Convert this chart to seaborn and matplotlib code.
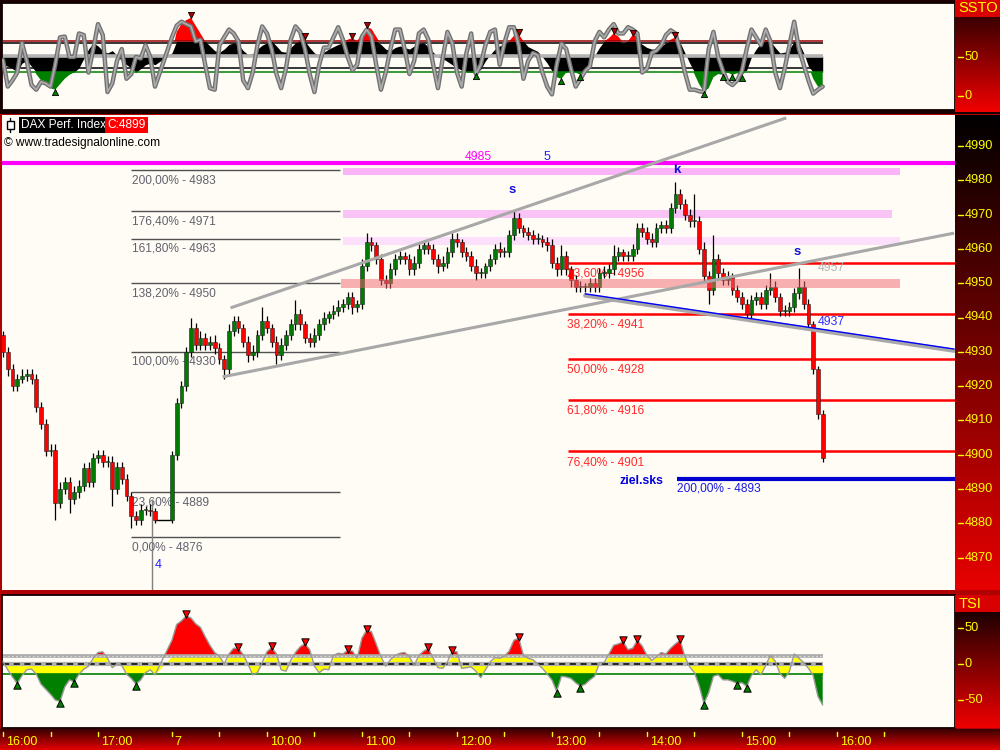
import numpy as np
import pandas as pd
import matplotlib
matplotlib.use("Agg")
import matplotlib.pyplot as plt
import seaborn as sns
from matplotlib.patches import Rectangle
from matplotlib.colors import LinearSegmentedColormap

sns.set_theme(style="white")
plt.rcParams['font.family'] = ['Liberation Sans', 'DejaVu Sans']

# ---------------------------------------------------------------- DATA
BAR_MIN = 3            # minutes per bar
DAY2_OFFSET = 106.7    # axis position (minutes) of 09:00 on day 2

# Day 1 (from 16:00), 3-minute bars
d1_open_first = 4935
d1_close = [4930, 4925, 4920, 4922, 4923, 4923.5, 4922, 4914, 4909, 4901,
            4901.5, 4886, 4890, 4892, 4887, 4889, 4891, 4896, 4892, 4899,
            4900, 4898, 4898, 4890, 4896.5, 4893, 4888, 4882, 4881, 4884,
            4884, 4883.5, 4881]
d1_hi_ext = [1, 1.5, 1.5, 1.5, 2, 1.5, 1.5, 1.5, 1.5, 1.5,
             1.5, 1.5, 2, 1.5, 1.5, 2, 1.5, 1.5, 2, 1.5,
             1.5, 1.5, 1.5, 1.5, 1.5, 1.5, 1.5, 1, 1.5, 1.5,
             1, 1.5, 1]
d1_lo_ext = [1.5, 2, 1.5, 1.5, 1, 1.5, 1.5, 1.5, 1.5, 1.5,
             1.5, 5, 1.5, 1.5, 4, 1.5, 1.5, 1.5, 1.5, 1.5,
             1.5, 1.5, 1.5, 5, 1.5, 1.5, 1.5, 3.5, 1.5, 1.5,
             1.5, 1.5, 1]

# Day 2 (from 09:00), 3-minute bars
d2_open_first = 4881
d2_close = [4900, 4915, 4920, 4930, 4937, 4932, 4934, 4932, 4933, 4931,
            4928, 4925, 4936, 4939, 4937, 4933, 4929, 4930, 4935, 4939,
            4937, 4933, 4929, 4932, 4935, 4938, 4941, 4938, 4934, 4933,
            4935, 4938, 4940, 4941, 4942, 4943, 4944, 4946, 4943, 4944,
            4955, 4962, 4961, 4957, 4951, 4950, 4954, 4957, 4958, 4957,
            4954, 4956, 4960, 4961, 4960, 4957, 4955, 4956, 4959, 4963,
            4962, 4959, 4958, 4955, 4953, 4953, 4955, 4957, 4960, 4959,
            4959, 4964, 4969, 4966, 4965, 4964, 4963, 4963, 4962, 4961,
            4956, 4954, 4958, 4954, 4951, 4949, 4949, 4949, 4950, 4949,
            4953, 4953, 4954, 4958, 4959, 4958, 4958, 4960, 4966, 4965,
            4963, 4962, 4966, 4967, 4966, 4972, 4976, 4973, 4970, 4968,
            4968, 4960, 4952, 4948, 4957, 4953, 4951, 4952, 4948, 4946,
            4944, 4941, 4945, 4946, 4944, 4948, 4949, 4946, 4942, 4942,
            4943, 4947, 4949, 4944, 4938, 4925, 4912, 4899]
d2_hi_ext = [1, 1.5, 1.5, 1.5, 3, 1.5, 2, 1.5, 1.5, 2,
             1.5, 1, 2, 1.5, 1.5, 1, 1.5, 2, 1.5, 4,
             1.5, 1, 1.5, 2, 1.5, 1.5, 4, 1.5, 1, 1.5,
             2, 1.5, 1.5, 1, 1.5, 2, 1.5, 1.5, 1.5, 1,
             2, 2.5, 1.5, 1, 1.5, 1.5, 2, 1.5, 1.5, 1,
             1.5, 2, 1.5, 1.5, 1, 1.5, 1.5, 2, 1.5, 1.6,
             1.5, 1, 1.5, 1.5, 2, 1.5, 1, 1.5, 1.5, 2,
             1.5, 1.5, 2, 1.5, 1, 1.5, 1.5, 1.5, 1, 1.5,
             2, 1.5, 3, 1.5, 1, 1.5, 1.5, 1, 1.5, 1.5,
             1.5, 2, 1.5, 3, 1.5, 1, 1.5, 1.5, 1.5, 1.5,
             1.5, 1.5, 1.5, 1, 1.5, 1.5, 3.5, 1.5, 1.5, 1.5,
             8, 1.5, 2, 1.5, 7, 1.5, 1.5, 1.5, 1, 1.5,
             1.5, 1.5, 1.5, 1.5, 1.5, 1.5, 4, 1.5, 1, 1.5,
             1.5, 1.5, 5.5, 1.5, 1.5, 1, 1, 1]
d2_lo_ext = [1, 1.5, 1.5, 1.5, 1.5, 1.5, 1.5, 1.5, 1.5, 1.5,
             1.5, 3, 1.5, 1.5, 1.5, 1.5, 2, 1.5, 1.5, 1.5,
             1.5, 1.5, 2.5, 1.5, 1.5, 1.5, 1.5, 1.5, 1.5, 1.5,
             1.5, 1.5, 1.5, 1.5, 1.5, 1.5, 1.5, 1.5, 2, 1.5,
             1.5, 1.5, 1.5, 1.5, 1.5, 1.5, 1.5, 1.5, 1.5, 1.5,
             1.5, 1.5, 1.5, 1.5, 1.5, 1.5, 2, 1.5, 1.5, 1.5,
             1.5, 1.5, 1.5, 1.5, 2, 1.5, 1.5, 1.5, 1.5, 1.5,
             1.5, 1.5, 1.5, 1.5, 1.5, 1.5, 1.5, 1.5, 1.5, 1.5,
             1.5, 2, 1.5, 1.5, 2, 1.5, 1.5, 1.5, 1.5, 1.5,
             1.5, 1.5, 1.5, 1.5, 1.5, 1.5, 1.5, 1.5, 1.5, 1.5,
             1.5, 1.5, 1.5, 1.5, 1.5, 1.5, 1.5, 1.5, 1.5, 1.5,
             1.5, 1.5, 1.5, 4, 1.5, 1.5, 1.5, 1.5, 1.5, 1.5,
             1.5, 1.5, 1.5, 1.5, 1.5, 1.5, 1.5, 1.5, 1.5, 1.5,
             1.5, 1.5, 1.5, 1.5, 1.5, 1.5, 1.5, 1]

# SSTO oscillator (fast grey line and smoothed filled curve)
ssto_fast_d1 = [46, 12, 20, 30, 68, 45, 14, 8, 18, 16, 12, 40, 75, 76, 50, 50, 80,
                78, 30, 60, 92, 78, 5, 16, 45, 60, 22, 28, 50, 48, 65, 50, 12]
ssto_fast_d2 = [75, 90, 95, 92, 89, 70, 72, 40, 10, 8,
                65, 75, 85, 80, 70, 20, 10, 30, 65, 89,
                80, 60, 28, 10, 35, 72, 89, 82, 60, 28,
                5, 40, 62, 62, 75, 88, 72, 50, 33, 40,
                76, 85, 76, 40, 8, 30, 60, 85, 85, 60,
                28, 45, 80, 85, 72, 40, 10, 48, 82, 68,
                30, 12, 55, 80, 28, 40, 65, 82, 85, 40,
                68, 88, 88, 65, 22, 45, 55, 52, 30, 12,
                2, 40, 67, 60, 35, 12, 22, 32, 38, 70,
                82, 75, 85, 92, 80, 80, 88, 85, 80, 30,
                35, 55, 58, 65, 78, 84, 80, 58, 30, 8,
                8, 6, 5, 60, 82, 50, 32, 18, 14, 20,
                32, 60, 85, 75, 65, 85, 70, 30, 10, 35,
                65, 95, 60, 40, 20, 3, 8, 12]
ssto_slow_d1 = [40, 38, 35, 30, 42, 45, 38, 28, 20, 14, 10, 8, 15, 22, 27, 30, 36,
                48, 60, 68, 64, 58, 55, 58, 52, 45, 40, 36, 29, 35, 40, 42, 40]
ssto_slow_d2 = [55, 82, 92, 97, 100, 90, 80, 70, 64, 58,
                56, 60, 66, 68, 66, 58, 53, 54, 60, 65,
                68, 70, 64, 57, 56, 62, 68, 72, 74, 62,
                55, 52, 56, 60, 63, 66, 68, 72, 74, 70,
                80, 88, 86, 76, 66, 60, 58, 62, 64, 62,
                60, 64, 67, 68, 63, 56, 50, 48, 44, 40,
                36, 33, 31, 30, 28, 34, 45, 53, 60, 64,
                66, 70, 77, 79, 70, 63, 60, 57, 50, 42,
                32, 24, 22, 30, 33, 30, 27, 33, 42, 52,
                62, 70, 74, 80, 76, 68, 70, 78, 76, 66,
                62, 60, 60, 64, 68, 72, 75, 68, 55, 42,
                28, 15, 5, 10, 24, 28, 27, 30, 27, 29,
                26, 33, 50, 60, 68, 72, 70, 62, 55, 56,
                60, 70, 68, 55, 38, 22, 12, 10]

# TSI
tsi_d1 = [3, -8, -18, -27, -16, -8, -7, -14, -28, -35, -42, -50, -52, -32, -22, -25, -14,
          -7, -3, 8, 16, 17, 8, -5, 0, -2, -14, -20, -28, -22, -12, -8, -15]
tsi_d2 = [33, 55, 60, 67, 64, 56, 51, 38, 26, 16,
          11, 0, 14, 22, 22, 13, 0, -15, -12, 2,
          17, 23, 14, -8, -10, 5, 16, 24, 28, 20,
          -3, -12, -7, -8, 12, 15, 14, 19, 18, 8,
          36, 47, 45, 28, 10, -3, 6, 12, 15, 16,
          10, -2, 12, 18, 22, 8, -5, -6, 3, 18,
          17, -6, -5, -4, -10, -19, -8, 3, 9, 8,
          11, 18, 33, 36, 12, 8, 6, 0, -6, -14,
          -22, -38, -17, -18, -20, -26, -31, -28, -22, -17,
          2, 2, 14, 26, 28, 31, 20, 22, 33, 25,
          12, 5, 10, 16, 14, 22, 28, 33, 10, -4,
          -12, -30, -55, -40, -17, -15, -22, -22, -24, -27,
          -26, -31, -16, -8, -15, -2, 12, 4, -13, -20,
          -10, 14, 8, 2, -6, -16, -45, -57]

price_ticks = [4870, 4880, 4890, 4900, 4910, 4920, 4930, 4940, 4950, 4960, 4970, 4980, 4990]
ssto_ticks = [50, 0]
tsi_ticks = [50, 0, -50]

time_ticks = [(1, "16:00", "16:00"), (1, "16:30", ""), (1, "17:00", "17:00"),
              (2, "09:00", "7"), (2, "09:30", ""), (2, "10:00", "10:00"), (2, "10:30", ""),
              (2, "11:00", "11:00"), (2, "11:30", ""), (2, "12:00", "12:00"), (2, "12:30", ""),
              (2, "13:00", "13:00"), (2, "13:30", ""), (2, "14:00", "14:00"), (2, "14:30", ""),
              (2, "15:00", "15:00"), (2, "15:30", ""), (2, "16:00", "16:00"), (2, "16:30", "")]

fib_left_levels = [4983, 4971, 4963, 4950, 4930, 4889, 4876]
fib_left_pcts = ["200,00%", "176,40%", "161,80%", "138,20%", "100,00%", "23,60%", "0,00%"]
fib_left_span = [(1, "17:21"), (2, "10:46")]
fib_right_levels = [4956, 4941, 4928, 4916, 4901]
fib_right_pcts = ["23,60%", "38,20%", "50,00%", "61,80%", "76,40%"]
fib_right_start = (2, "13:10")
resistance_level = 4985
target_level = 4893
target_start = (2, "14:19")
zones = [(4981.5, 4983.6, (2, "10:48"), (2, "16:40")),
         (4969.0, 4971.3, (2, "10:48"), (2, "16:35")),
         (4961.2, 4963.5, (2, "10:48"), (2, "16:40")),
         (4948.6, 4951.2, (2, "10:47"), (2, "16:40"))]
channel_upper = [((2, "09:37"), 4942.8), ((2, "15:28"), 4998.2)]
channel_lower = [((2, "09:32"), 4922.7), ((2, "17:14"), 4964.6)]
trend_line = [((2, "13:21"), 4946.9), ((2, "17:14"), 4930.8)]
wave4_marker = ((1, "17:34"), 4887)
last_close = 4899

# ---------------------------------------------------------------- HELPERS
PX_PER_MIN = 47.5 / 30.0


def tpos(day, hhmm):
    h, m = map(int, hhmm.split(":"))
    if day == 1:
        return h * 60 + m - 16 * 60
    return DAY2_OFFSET + h * 60 + m - 9 * 60


def px2x(px):
    return (px - 3) / PX_PER_MIN


def py2price(py):
    return 4990 - (py - 146) / 3.43


XLIM = (px2x(2), px2x(955))
MAIN_YLIM = (py2price(590), py2price(115))
TOP_YLIM = (-18, 119)
TSI_YLIM = (-89, 96)


def frac_rect(x0, y0, x1, y1):
    return [x0 / 1000, 1 - y1 / 750, (x1 - x0) / 1000, (y1 - y0) / 750]


def ohlc(open_first, close, hi_ext, lo_ext):
    c = np.array(close, float)
    o = np.r_[open_first, c[:-1]]
    n = len(c)
    he = np.array(hi_ext[:n], float)
    le = np.array(lo_ext[:n], float)
    return o, c, np.maximum(o, c) + he, np.minimum(o, c) - le


def day_x(n, day):
    base = 0.0 if day == 1 else DAY2_OFFSET
    return base + np.arange(n) * BAR_MIN


# ---------------------------------------------------------------- FIGURE
fig = plt.figure(figsize=(10, 7.5), dpi=100)
fig.patch.set_facecolor('#B00000')
fig.add_artist(Rectangle((0, 1 - 114 / 750), 1, 114 / 750, transform=fig.transFigure,
                         facecolor='#1A0000', edgecolor='none', zorder=-5))

ax_top = fig.add_axes(frac_rect(2, 3, 955, 110))
ax_main = fig.add_axes(frac_rect(2, 115, 955, 590))
ax_tsi = fig.add_axes(frac_rect(2, 595, 955, 728))

for a, yl in ((ax_top, TOP_YLIM), (ax_main, MAIN_YLIM), (ax_tsi, TSI_YLIM)):
    a.set_facecolor('#FFFCF5')
    a.set_xlim(XLIM)
    a.set_ylim(yl)
    a.set_xticks([])
    a.set_yticks([])
    for sp in a.spines.values():
        sp.set_color('#100000')
        sp.set_linewidth(1.3)
for sp in ax_main.spines.values():
    sp.set_visible(False)

# ---------------------------------------------------------------- MAIN PANEL
ax = ax_main
x1 = day_x(len(d1_close), 1)
x2 = day_x(len(d2_close), 2)
body_w = BAR_MIN * 0.8

# zones: pink ones behind the candles, salmon one translucent on top
zone_styles = [('#FBB4F8', 1.0, 1), ('#F9C3F6', 1.0, 1), ('#FCE0FB', 1.0, 1),
               ('#F0646A', 0.5, 6)]
for (lo, hi, s, e), (col, al, zo) in zip(zones, zone_styles):
    ax.add_patch(Rectangle((tpos(*s), lo), tpos(*e) - tpos(*s), hi - lo,
                           facecolor=col, alpha=al, edgecolor='none', zorder=zo))

# resistance line
ax.axhline(resistance_level, color='#FF00FF', lw=3, zorder=7)

# left fibonacci grid
fl0, fl1 = tpos(*fib_left_span[0]), tpos(*fib_left_span[1])
for lvl, pct in zip(fib_left_levels, fib_left_pcts):
    ax.hlines(lvl, fl0, fl1, color='#505050', lw=1, zorder=2)
    ax.annotate(f"{pct} - {lvl}", (px2x(132), lvl), xytext=(0, -3), textcoords='offset points',
                va='top', ha='left', fontsize=8.6, color='#62626E', zorder=2)

# right fibonacci grid
fr0 = tpos(*fib_right_start)
for lvl, pct in zip(fib_right_levels, fib_right_pcts):
    ax.hlines(lvl, fr0, XLIM[1], color='#FF0000', lw=1.8, zorder=2)
    ax.annotate(f"{pct} - {lvl}", (px2x(567), lvl), xytext=(0, -3.5), textcoords='offset points',
                va='top', ha='left', fontsize=8.6, color='#FF2A2A', zorder=2)

# target line
ax.hlines(target_level, tpos(*target_start), XLIM[1], color='#0000D0', lw=3, zorder=7)
ax.text(px2x(620), py2price(481), "ziel.sks", color='#0000E0', fontsize=8.8,
        fontweight='bold', va='center', ha='left', zorder=8)
ax.annotate(f"200,00% - {target_level}", (px2x(677), target_level), xytext=(0, -3),
            textcoords='offset points', va='top', ha='left', fontsize=8.6, color='#1A1AE0', zorder=8)

# wave 4 vertical marker
ax.vlines(tpos(*wave4_marker[0]), MAIN_YLIM[0], wave4_marker[1], color='#808080', lw=1, zorder=2)
ax.text(px2x(158), py2price(565), "4", color='#2020FF', fontsize=9, va='center', ha='center', zorder=8)

# candles
for x, (o, c, h, l) in ((x1, ohlc(d1_open_first, d1_close, d1_hi_ext, d1_lo_ext)),
                        (x2, ohlc(d2_open_first, d2_close, d2_hi_ext, d2_lo_ext))):
    ax.vlines(x, l, h, color='black', lw=0.9, zorder=4)
    hgt = np.where(np.abs(c - o) < 0.3, 0.3, c - o)
    cols = np.where(c >= o, '#007A00', '#FF0000')
    ax.bar(x, hgt, bottom=o, width=body_w, color=cols, edgecolor='#202020',
           linewidth=0.4, zorder=5)
ax.hlines(d1_close[-1], x1[-1], x2[0], color='black', lw=1, zorder=4)

# channels and trend line
for (p0, v0), (p1, v1) in (channel_upper, channel_lower):
    ax.plot([tpos(*p0), tpos(*p1)], [v0, v1], color='#A8A8A8', lw=2.2, zorder=7,
            solid_capstyle='butt')
(p0, v0), (p1, v1) = trend_line
ax.plot([tpos(*p0), tpos(*p1)], [v0 - 0.5, v1 - 0.5], color='#A8A8A8', lw=3, zorder=7)
ax.plot([tpos(*p0), tpos(*p1)], [v0, v1], color='#0000FF', lw=1, zorder=7)

# texts
ax.text(px2x(478), py2price(157), "4985", color='#FF00FF', fontsize=8.8, ha='center', va='center', zorder=8)
ax.text(px2x(547), py2price(157), "5", color='#2020FF', fontsize=9, ha='center', va='center', zorder=8)
ax.text(px2x(512), py2price(190), "s", color='#1010E0', fontsize=9.5, fontweight='bold',
        ha='center', va='center', zorder=8)
ax.text(px2x(677), py2price(170), "k", color='#1010E0', fontsize=9.5, fontweight='bold',
        ha='center', va='center', zorder=8)
ax.text(px2x(797), py2price(252), "s", color='#1010E0', fontsize=9.5, fontweight='bold',
        ha='center', va='center', zorder=8)
ax.text(px2x(818), py2price(268), "4957", color='#B4B4B4', fontsize=8.8, ha='left', va='center', zorder=8)
ax.text(px2x(818), py2price(322), "4937", color='#3030FF', fontsize=8.8, ha='left', va='center', zorder=8)


def fx(px):
    return (px - 2) / 953


def fy(py):
    return 1 - (py - 115) / 475


ax.plot([fx(10), fx(10)], [fy(118), fy(132)], color='black', lw=1, transform=ax.transAxes, zorder=9)
ax.add_patch(Rectangle((fx(6.5), fy(129)), fx(13.5) - fx(6.5), fy(121) - fy(129),
                       facecolor='white', edgecolor='black', lw=1, transform=ax.transAxes, zorder=10))
ax.text(fx(21), fy(125), "DAX Perf. Index", color='white', fontsize=8.6, va='center', ha='left',
        transform=ax.transAxes, zorder=10,
        bbox=dict(facecolor='black', edgecolor='none', pad=1.6))
ax.text(fx(107), fy(125), f"C:{last_close}", color='white', fontsize=8.6, va='center', ha='left',
        transform=ax.transAxes, zorder=10,
        bbox=dict(facecolor='#FF0000', edgecolor='none', pad=1.6))
ax.text(fx(4), fy(143), "\u00a9 www.tradesignalonline.com", color='black', fontsize=8.6,
        va='center', ha='left', transform=ax.transAxes, zorder=10)


# ---------------------------------------------------------------- OSCILLATOR HELPERS
def extremes(v, hi, lo):
    peaks, troughs = [], []
    for i in range(1, len(v) - 1):
        if v[i] > hi and v[i] >= v[i - 1] and v[i] > v[i + 1]:
            peaks.append(i)
        if v[i] < lo and v[i] <= v[i - 1] and v[i] < v[i + 1]:
            troughs.append(i)
    return peaks, troughs


# ---------------------------------------------------------------- SSTO PANEL
SS_HI, SS_LO, SS_MID = 70, 30.5, 51
xs_fast = np.r_[day_x(len(ssto_fast_d1), 1), day_x(len(ssto_fast_d2), 2)]
v_fast = np.array(ssto_fast_d1 + ssto_fast_d2, float)
xs_slow = np.r_[day_x(len(ssto_slow_d1), 1), day_x(len(ssto_slow_d2), 2)]
v_slow = np.array(ssto_slow_d1 + ssto_slow_d2, float)

at = ax_top
at.fill_between(xs_slow, SS_MID, np.clip(v_slow, SS_LO, SS_HI), color='black', lw=0, zorder=2)
at.fill_between(xs_slow, SS_HI, v_slow, where=v_slow > SS_HI, interpolate=True,
                color='#FF0000', lw=0, zorder=2)
at.fill_between(xs_slow, SS_LO, v_slow, where=v_slow < SS_LO, interpolate=True,
                color='#008000', lw=0, zorder=2)
xa, xb = xs_slow[0], xs_slow[-1]
at.hlines(SS_MID, xa, xb, color='#B4B4B4', lw=2.6, zorder=3)
at.hlines(SS_HI + 0.8, xa, xb, color='#990000', lw=1.1, zorder=3)
at.hlines(67.5, xa, xb, color='black', lw=1.1, zorder=3)
at.hlines(36, xa, xb, color='black', lw=1.1, zorder=3)
at.hlines(SS_LO, xa, xb, color='#008000', lw=1.1, zorder=3)
sns.lineplot(x=xs_fast, y=v_fast, ax=at, color='#707070', linewidth=3.2, sort=False,
             estimator=None, legend=False, zorder=4)
sns.lineplot(x=xs_fast, y=v_fast, ax=at, color='#ABABAB', linewidth=1.3, sort=False,
             estimator=None, legend=False, zorder=5)
pk, tr = extremes(v_slow, SS_HI + 2, SS_LO - 2)
at.scatter(xs_slow[pk], v_slow[pk] + 3, marker='v', s=20, color='#B00000', edgecolor='black',
           linewidth=0.6, zorder=6)
at.scatter(xs_slow[tr], v_slow[tr] - 3, marker='^', s=20, color='#008000', edgecolor='black',
           linewidth=0.6, zorder=6)
at.set_xlim(XLIM)
at.set_ylim(TOP_YLIM)
at.set_xlabel("")
at.set_ylabel("")

# ---------------------------------------------------------------- TSI PANEL
T_HI, T_LO = 11, -14
xt = np.r_[day_x(len(tsi_d1), 1), day_x(len(tsi_d2), 2)]
vt = np.array(tsi_d1 + tsi_d2, float)
av = ax_tsi
av.fill_between(xt, 0, np.clip(vt, T_LO, T_HI), color='#FFFF00', lw=0, zorder=2)
av.fill_between(xt, T_HI, vt, where=vt > T_HI, interpolate=True, color='#FF0000', lw=0, zorder=2)
av.fill_between(xt, T_LO, vt, where=vt < T_LO, interpolate=True, color='#007F00', lw=0, zorder=2)
xa, xb = xt[0], xt[-1]
av.hlines(T_HI, xa, xb, color='#A8A8A8', lw=2.6, zorder=3)
av.hlines(T_HI, xa, xb, color='#D4D4D4', lw=1.0, linestyles=(0, (1.5, 1.5)), zorder=3)
av.hlines(0, xa, xb, color='#B0B0B0', lw=3, zorder=3)
av.hlines(0, xa, xb, color='black', lw=1.1, linestyles=(0, (4, 3)), zorder=3)
av.hlines(T_LO, xa, xb, color='#008000', lw=1.2, zorder=3)
sns.lineplot(x=xt, y=vt, ax=av, color='#9A9A9A', linewidth=1.0, sort=False,
             estimator=None, legend=False, zorder=4)
pk, tr = extremes(vt, T_HI + 6, T_LO - 6)
av.scatter(xt[pk], vt[pk] + 2, marker='v', s=28, color='#FF0000', edgecolor='black',
           linewidth=0.7, zorder=6)
av.scatter(xt[tr], vt[tr] - 2, marker='^', s=28, color='#008000', edgecolor='black',
           linewidth=0.7, zorder=6)
av.set_xlim(XLIM)
av.set_ylim(TSI_YLIM)
av.set_xlabel("")
av.set_ylabel("")


# ---------------------------------------------------------------- RIGHT STRIPS
def make_strip(rect, ylim, c_top, c_bot, ticks, label=None, label_frac=0.0,
               label_color='#D80000'):
    s = fig.add_axes(rect)
    cmap = LinearSegmentedColormap.from_list('g', [c_top, c_bot])
    top_y = ylim[1] - (ylim[1] - ylim[0]) * label_frac
    s.imshow(np.linspace(0, 1, 256).reshape(-1, 1), aspect='auto', cmap=cmap,
             extent=[0, 1, ylim[0], top_y], origin='upper', zorder=0)
    if label:
        s.add_patch(Rectangle((0, top_y), 1, ylim[1] - top_y, facecolor=label_color,
                              edgecolor='none', zorder=1))
        s.text(0.08, (top_y + ylim[1]) / 2, label, color='#FFFF00', fontsize=10.5,
               va='center', ha='left', clip_on=True, zorder=2)
    for t in ticks:
        s.plot([0.06, 0.17], [t, t], color='#FFFF00', lw=1, zorder=2)
        s.text(0.21, t, f"{t}", color='#FFFF00', fontsize=9.2, va='center', ha='left', zorder=2)
    s.set_xlim(0, 1)
    s.set_ylim(ylim)
    s.axis('off')
    return s


make_strip(frac_rect(955, 0, 1000, 112), (TOP_YLIM[0] - 2.6, TOP_YLIM[1] + 3.8),
           '#3A0000', '#F20000', ssto_ticks, label="SSTO", label_frac=17 / 112)
make_strip(frac_rect(955, 115, 1000, 590), MAIN_YLIM, '#000000', '#E80000', price_ticks)
make_strip(frac_rect(955, 595, 1000, 728), TSI_YLIM, '#1E0000', '#F00000', tsi_ticks,
           label="TSI", label_frac=17 / 133, label_color='#D80000')

# ---------------------------------------------------------------- TIME AXIS
bg = fig.add_axes(frac_rect(0, 729, 1000, 750))
bg.imshow(np.linspace(0, 1, 64).reshape(-1, 1), aspect='auto',
          cmap=LinearSegmentedColormap.from_list('t', ['#3A0000', '#E40000']),
          extent=[0, 1, 0, 1], origin='upper')
bg.axis('off')
tx = fig.add_axes(frac_rect(2, 729, 955, 750))
tx.set_xlim(XLIM)
tx.set_ylim(0, 1)
tx.patch.set_alpha(0)
for day, hhmm, lab in time_ticks:
    p = tpos(day, hhmm)
    tx.plot([p, p], [0.88, 0.66], color='#FFFF00', lw=1)
    if lab:
        tx.annotate(lab, (p, 0.36), xytext=(2, 0), textcoords='offset points',
                    color='#FFFF00', fontsize=9, va='center', ha='left')
tx.axis('off')

fig.savefig("out.png", dpi=100, facecolor=fig.get_facecolor())
